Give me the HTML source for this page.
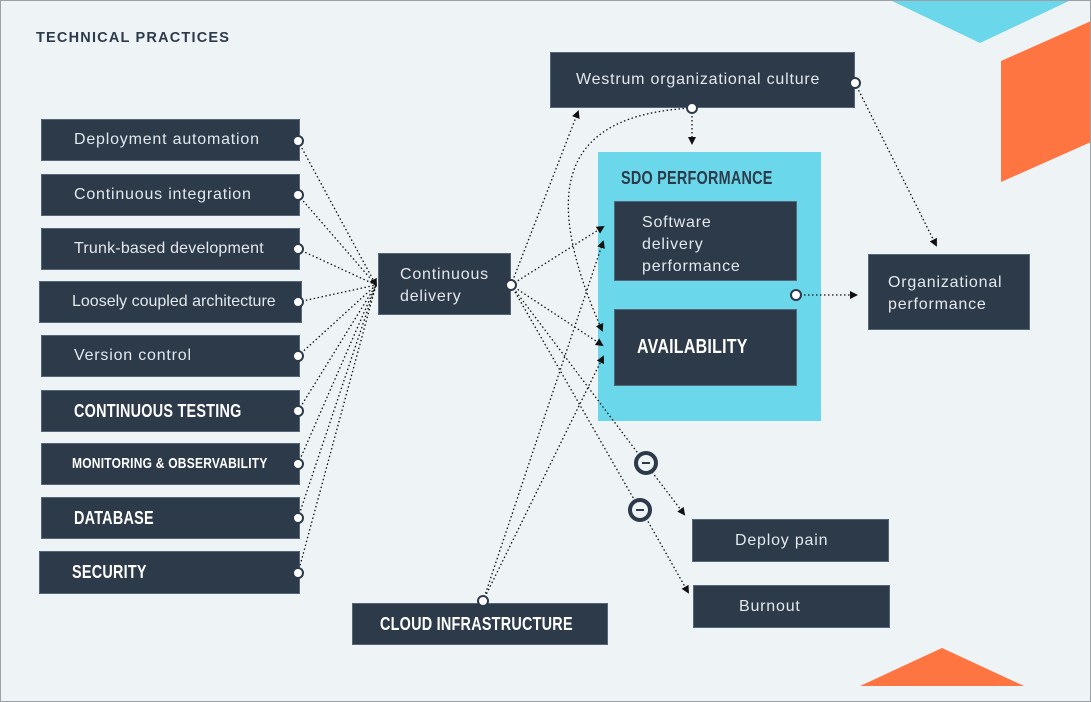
<!DOCTYPE html>
<html><head><meta charset="utf-8"><style>
html,body{margin:0;padding:0}
body{width:1091px;height:686px;position:relative;background:#eef3f6;overflow:hidden;font-family:"Liberation Sans",sans-serif}
.frame{position:absolute;left:0;top:0;width:1089px;height:700px;border:1px solid #9aa0a6}
.b{position:absolute;background:#2d3a4a;color:#e3e8ec;box-sizing:border-box;border:1px solid #55657a;white-space:nowrap}
.t{font-size:16px;letter-spacing:0.8px;font-weight:300}
.h{font-weight:bold;font-size:18px;color:#fff;letter-spacing:0.3px}
.h span{display:inline-block;transform:scaleX(.8);transform-origin:left center}
.l{padding-left:32px;line-height:40px}
svg{position:absolute;left:0;top:0}
</style></head><body>
<svg width="1091" height="686">
<polygon points="890,0 1071,0 980,43" fill="#6ad8ea"/>
<polygon points="1001,61 1091,21 1091,142 1001,182" fill="#ff7542"/>
<polygon points="860,686 942,648 1024,686" fill="#ff7542"/>
<rect x="598" y="152" width="223" height="269" fill="#6ad8ea"/>
</svg>
<div class="frame"></div>
<div style="position:absolute;left:36px;top:30px;font-weight:bold;font-size:14.5px;letter-spacing:1.2px;color:#2d3a4a">TECHNICAL PRACTICES</div>

<div class="b t l" style="left:41px;top:119px;width:259px;height:42px">Deployment automation</div>
<div class="b t l" style="left:41px;top:174px;width:259px;height:42px">Continuous integration</div>
<div class="b t l" style="left:41px;top:228px;width:259px;height:42px;font-size:16px;letter-spacing:0.2px">Trunk-based development</div>
<div class="b t l" style="left:39px;top:281px;width:263px;height:42px;font-size:16px;letter-spacing:0px">Loosely coupled architecture</div>
<div class="b t l" style="left:41px;top:335px;width:259px;height:42px">Version control</div>
<div class="b h l" style="left:41px;top:390px;width:259px;height:42px"><span>CONTINUOUS TESTING</span></div>
<div class="b h l" style="left:41px;top:443px;width:259px;height:42px;font-size:15px;padding-left:30px"><span>MONITORING &amp; OBSERVABILITY</span></div>
<div class="b h l" style="left:41px;top:497px;width:259px;height:42px"><span>DATABASE</span></div>
<div class="b h l" style="left:39px;top:551px;width:261px;height:43px;padding-left:32px"><span>SECURITY</span></div>

<div class="b t" style="left:378px;top:253px;width:133px;height:62px;padding:10px 0 0 21px;line-height:22px">Continuous<br>delivery</div>
<div class="b t" style="left:550px;top:52px;width:305px;height:56px;padding-left:25px;line-height:54px">Westrum organizational culture</div>
<div class="b h" style="left:598px;top:152px;width:223px;height:40px;background:none;border:none;color:#2d3a4a;padding:16px 0 0 23px"><span>SDO PERFORMANCE</span></div>
<div class="b t" style="left:614px;top:201px;width:183px;height:80px;padding:10px 0 0 27px;line-height:22px">Software<br>delivery<br>performance</div>
<div class="b h" style="left:614px;top:309px;width:183px;height:77px;padding:26px 0 0 22px;font-size:20px"><span>AVAILABILITY</span></div>
<div class="b t" style="left:868px;top:254px;width:162px;height:76px;padding:17px 0 0 19px;line-height:22px">Organizational<br>performance</div>
<div class="b t" style="left:692px;top:519px;width:197px;height:43px;padding-left:42px;line-height:41px">Deploy pain</div>
<div class="b t" style="left:693px;top:585px;width:197px;height:43px;padding-left:45px;line-height:41px">Burnout</div>
<div class="b h" style="left:352px;top:603px;width:256px;height:42px;padding-left:27px;line-height:41px"><span>CLOUD INFRASTRUCTURE</span></div>

<svg width="1091" height="686">
<defs><marker id="a" markerWidth="8" markerHeight="8" refX="6" refY="4" orient="auto" markerUnits="userSpaceOnUse"><path d="M0,0 L8,4 L0,8z" fill="#111"/></marker></defs>
<g fill="none" stroke="#111" stroke-width="1.3" stroke-dasharray="1.5,2.5">
<path d="M298,141 L376,285" marker-end="url(#a)"/>
<path d="M298,195 L376,285"/>
<path d="M298,249 L376,285"/>
<path d="M298,302 L376,285"/>
<path d="M298,356 L376,285"/>
<path d="M298,411 L376,285"/>
<path d="M298,464 L376,285"/>
<path d="M298,518 L376,285"/>
<path d="M298,573 L376,285"/>
<path d="M511,285 L578,112" marker-end="url(#a)"/>
<path d="M511,285 L603,227" marker-end="url(#a)"/>
<path d="M511,285 L602,345" marker-end="url(#a)"/>
<path d="M511,285 L640,456"/>
<path d="M511,285 L635,501"/>
<path d="M652,472 L684,514" marker-end="url(#a)"/>
<path d="M646,518 L688,592" marker-end="url(#a)"/>
<path d="M483,601 L603,242" marker-end="url(#a)"/>
<path d="M483,601 L603,357" marker-end="url(#a)"/>
<path d="M692,108 C560,115 540,190 602,330" marker-end="url(#a)"/>
<path d="M692,108 L692,143" marker-end="url(#a)"/>
<path d="M855,83 L936,245" marker-end="url(#a)"/>
<path d="M796,295 L856,295" marker-end="url(#a)"/>
</g>
<g fill="#fff" stroke="#2d3a4a" stroke-width="2">
<circle cx="298" cy="141" r="5"/><circle cx="298" cy="195" r="5"/><circle cx="298" cy="249" r="5"/>
<circle cx="298" cy="302" r="5"/><circle cx="298" cy="356" r="5"/><circle cx="298" cy="411" r="5"/>
<circle cx="298" cy="464" r="5"/><circle cx="298" cy="518" r="5"/><circle cx="298" cy="573" r="5"/>
<circle cx="511" cy="285" r="5"/><circle cx="855" cy="83" r="5"/><circle cx="692" cy="108" r="5"/>
<circle cx="796" cy="295" r="5"/><circle cx="483" cy="601" r="5"/>
</g>
<g fill="#eef3f6" stroke="#2d3a4a" stroke-width="4">
<circle cx="646" cy="463" r="10"/><circle cx="640" cy="510" r="10"/>
</g>
<g stroke="#2d3a4a" stroke-width="2"><line x1="642" y1="463" x2="650" y2="463"/><line x1="636" y1="510" x2="644" y2="510"/></g>
</svg>
</body></html>
